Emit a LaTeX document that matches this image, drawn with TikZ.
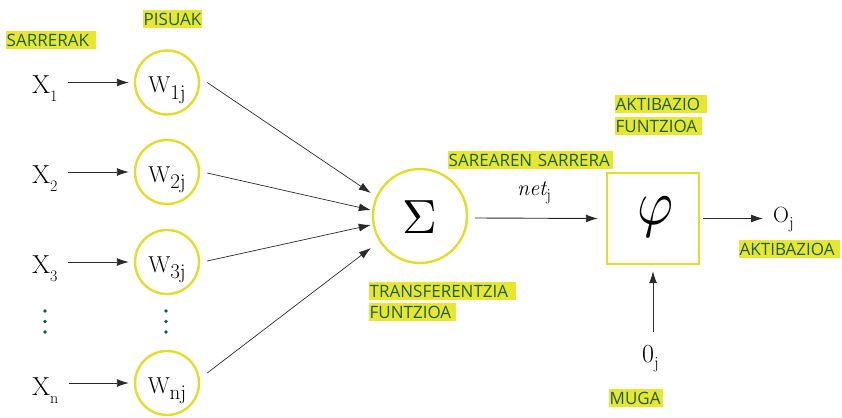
\documentclass[tikz,border=0pt]{standalone}
\usepackage{fontspec}
\usetikzlibrary{arrows.meta,calc}
\newfontfamily\lblfont{Open Sans}
\definecolor{ringyellow}{HTML}{E4DC2C}
\definecolor{hly}{HTML}{E8E62E}
\definecolor{hlt}{HTML}{1B5E4B}
\definecolor{dotc}{HTML}{0C5A4E}
\definecolor{linec}{HTML}{2A2A2A}
\newcommand{\fsz}[1]{\fontsize{#1}{#1}\selectfont}
% input symbol X with a lowered index
\newcommand{\Xlab}[1]{{\fsz{26}X}\raisebox{-8pt}{\fsz{16}#1}}
% weight symbol W with a large lowered index
\newcommand{\Wlab}[1]{{\fsz{23}W}\raisebox{-6pt}{\fsz{21}#1}}
\begin{document}
\begin{tikzpicture}[x=1pt,y=-1pt,
  wcirc/.style={circle,draw=ringyellow,line width=2.4pt,minimum size=64pt,inner sep=0pt},
  sumcirc/.style={circle,draw=ringyellow,line width=2.4pt,minimum size=94pt,inner sep=0pt},
  actbox/.style={rectangle,draw=ringyellow,line width=2.4pt,minimum width=92pt,minimum height=91pt,inner sep=0pt},
  lbl/.style={fill=hly,text=hlt,font=\lblfont\fsz{17},inner xsep=0.5pt,inner ysep=0pt,
              minimum height=18pt,anchor=north west,align=left},
  arr/.style={draw=linec,line width=0.9pt,-{Latex[length=12pt,width=8pt]}},
  thin arr/.style={draw=linec,line width=0.7pt,-{Latex[length=12pt,width=8pt]}},
  txt/.style={inner sep=0pt,anchor=base west},
  dotm/.style={circle,fill=dotc,inner sep=0pt,minimum size=3.6pt}
]
\useasboundingbox (0,0) rectangle (842,417);

% highlighted captions
\node[lbl,text width=89pt] (capin)  at (6,31)    {SARRERAK};
\node[lbl,text width=58pt] (capw)   at (143,10)  {PISUAK};
\node[lbl,text width=164pt] (capnet) at (448,151) {SAREAREN SARRERA};
\node[lbl,text width=146pt] (captf1) at (369,282) {TRANSFERENTZIA};
\node[lbl,text width=86pt] (captf2) at (369,303) {FUNTZIOA};
\node[lbl,text width=91pt] (capaf1) at (615,95)  {AKTIBAZIO};
\node[lbl,text width=86pt] (capaf2) at (615,117) {FUNTZIOA};
\node[lbl,text width=100pt] (capout) at (739,240) {AKTIBAZIOA};
\node[lbl,text width=53pt] (capmug) at (609,389) {MUGA};

% inputs
\node[txt] (x1) at (32,94)  {\Xlab{1}};
\node[txt] (x2) at (32,183) {\Xlab{2}};
\node[txt] (x3) at (32,273) {\Xlab{3}};
\node[txt] (xn) at (32,395) {\Xlab{n}};

% weights
\node[wcirc] (w1) at (167,82.5) {};
\node[wcirc] (w2) at (167,172)  {};
\node[wcirc] (w3) at (167,262)  {};
\node[wcirc] (wn) at (167,383)  {};
\node[inner sep=0pt,anchor=base] (w1t) at (167,93)  {\Wlab{1j}};
\node[inner sep=0pt,anchor=base] (w2t) at (167,182.5) {\Wlab{2j}};
\node[inner sep=0pt,anchor=base] (w3t) at (167,272.5) {\Wlab{3j}};
\node[inner sep=0pt,anchor=base] (wnt) at (167,393.5) {\Wlab{nj}};

% vertical ellipsis dots
\foreach \xx/\nm in {45/a,166/b}{
  \node[dotm] (d\nm1) at (\xx,311) {};
  \node[dotm] (d\nm2) at (\xx,321.5) {};
  \node[dotm] (d\nm3) at (\xx,332) {};
}

% summation and activation
\node[sumcirc] (sum) at (420,216) {};
\node[inner sep=0pt,anchor=base] (sigma) at (420,233) {\scalebox{4.8}{$\Sigma$}};
\node[actbox] (phi) at (653,218.5) {};
\node[inner sep=0pt] (phit) at (655,217) {\scalebox{5.5}[6.4]{$\varphi$}};

% net input, output and threshold symbols
\node[txt] (net) at (517,195) {{\fsz{22}\itshape net}\raisebox{-5pt}{\fsz{17}j}};
\node[txt] (oj) at (773,222) {{\fsz{22}O}\raisebox{-6pt}{\fsz{17}j}};
\node[txt] (bias) at (642,362) {{\fsz{26}0}\raisebox{-6pt}{\fsz{17}j}};

% input -> weight arrows
\foreach \i in {1,2,3,n}{
  \draw[arr] ($(x\i.east |- w\i.west)+(10,0)$) -- ([xshift=-5pt]w\i.west);
}

% weight -> summation
\draw[thin arr] ([xshift=7pt]w1.east) -- ([xshift=-1pt,yshift=23pt]sum.west);
\draw[thin arr] ([xshift=7pt,yshift=-1pt]w2.east) -- ([xshift=-1pt,yshift=6pt]sum.west);
\draw[thin arr] ([xshift=7pt,yshift=1pt]w3.east) -- ([xshift=-1pt,yshift=-9pt]sum.west);
\draw[thin arr] ([xshift=7pt,yshift=10pt]wn.east) -- ([xshift=-1pt,yshift=-32pt]sum.west);

% summation -> activation -> output
\draw[arr] ([xshift=7pt,yshift=-2pt]sum.east) -- ([xshift=-8pt]phi.west);
\draw[arr] ([xshift=3pt]phi.east) -- ($(oj.west |- phi.east)+(-10,0)$);

% threshold -> activation
\draw[arr] ([yshift=13pt]phi.south |- bias.north) -- ([yshift=-6pt]phi.south);
\end{tikzpicture}
\end{document}
